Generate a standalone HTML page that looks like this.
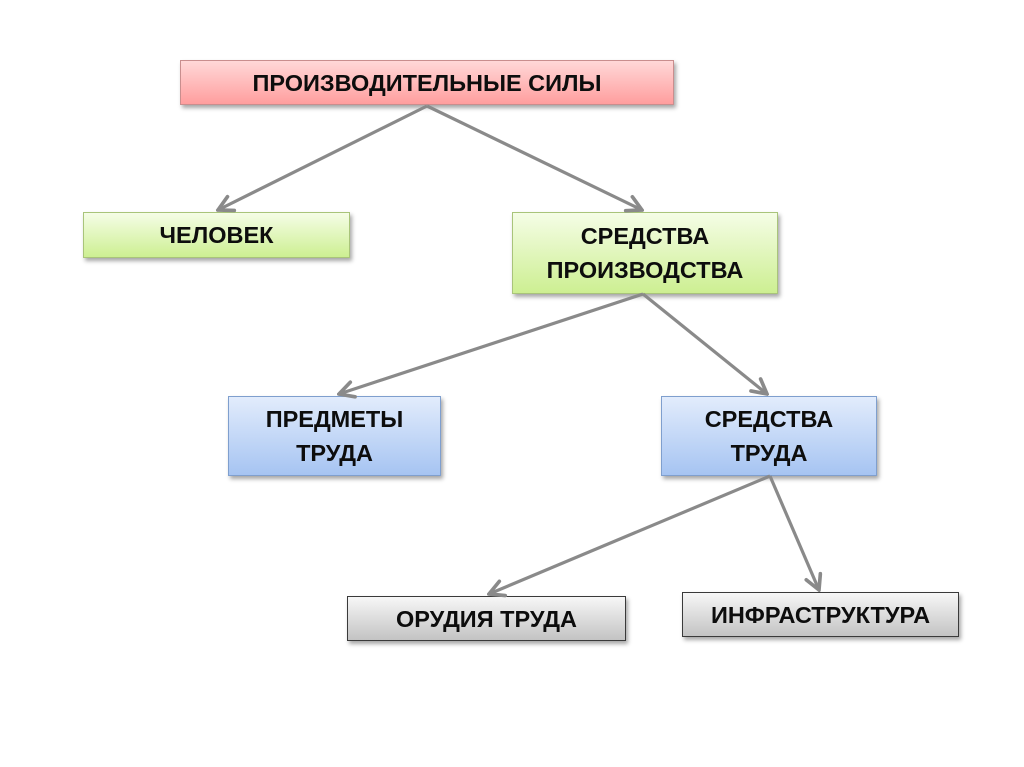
<!DOCTYPE html>
<html>
<head>
<meta charset="utf-8">
<style>
html,body{margin:0;padding:0;background:#fff;}
body{width:1024px;height:767px;position:relative;overflow:hidden;font-family:"Liberation Sans","DejaVu Sans",sans-serif;}
.box{position:absolute;box-sizing:border-box;display:flex;align-items:center;justify-content:center;text-align:center;
 font-weight:bold;font-size:23.5px;line-height:34px;color:#0d0d0d;box-shadow:2px 3px 4px rgba(0,0,0,0.35);}
.red{background:linear-gradient(#ffd8d8,#ff9e9e);border:1px solid #c98e8e;}
.green{background:linear-gradient(#f5fde6,#cdef92);border:1px solid #a9c47a;}
.blue{background:linear-gradient(#e2ecfc,#a6c4f2);border:1px solid #7f9fce;}
.gray{background:linear-gradient(#f7f7f7,#c3c3c3);border:1px solid #3a3a3a;}
svg{position:absolute;left:0;top:0;}
</style>
</head>
<body>
<div class="box red" style="left:180px;top:60px;width:494px;height:45px;">ПРОИЗВОДИТЕЛЬНЫЕ СИЛЫ</div>
<div class="box green" style="left:83px;top:212px;width:267px;height:46px;">ЧЕЛОВЕК</div>
<div class="box green" style="left:512px;top:212px;width:266px;height:82px;">СРЕДСТВА<br>ПРОИЗВОДСТВА</div>
<div class="box blue" style="left:228px;top:396px;width:213px;height:80px;">ПРЕДМЕТЫ<br>ТРУДА</div>
<div class="box blue" style="left:661px;top:396px;width:216px;height:80px;">СРЕДСТВА<br>ТРУДА</div>
<div class="box gray" style="left:347px;top:596px;width:279px;height:45px;">ОРУДИЯ ТРУДА</div>
<div class="box gray" style="left:682px;top:592px;width:277px;height:45px;">ИНФРАСТРУКТУРА</div>

<svg width="1024" height="767" viewBox="0 0 1024 767">
<defs>
<marker id="ah" viewBox="0 0 10 10" refX="9" refY="5" markerWidth="6" markerHeight="6" orient="auto">
<path d="M1.5,1 L9,5 L1.5,9" fill="none" stroke="#8a8a8a" stroke-width="1.9" stroke-linejoin="miter" stroke-linecap="round"/>
</marker>
</defs>
<g stroke="#8a8a8a" stroke-width="3.2" fill="none" marker-end="url(#ah)">
<line x1="427" y1="106" x2="218" y2="210"/>
<line x1="427" y1="106" x2="642" y2="210"/>
<line x1="643" y1="294" x2="339" y2="394"/>
<line x1="643" y1="294" x2="767" y2="394"/>
<line x1="770" y1="476" x2="489" y2="594"/>
<line x1="770" y1="476" x2="819" y2="590"/>
</g>
</svg>
</body>
</html>
